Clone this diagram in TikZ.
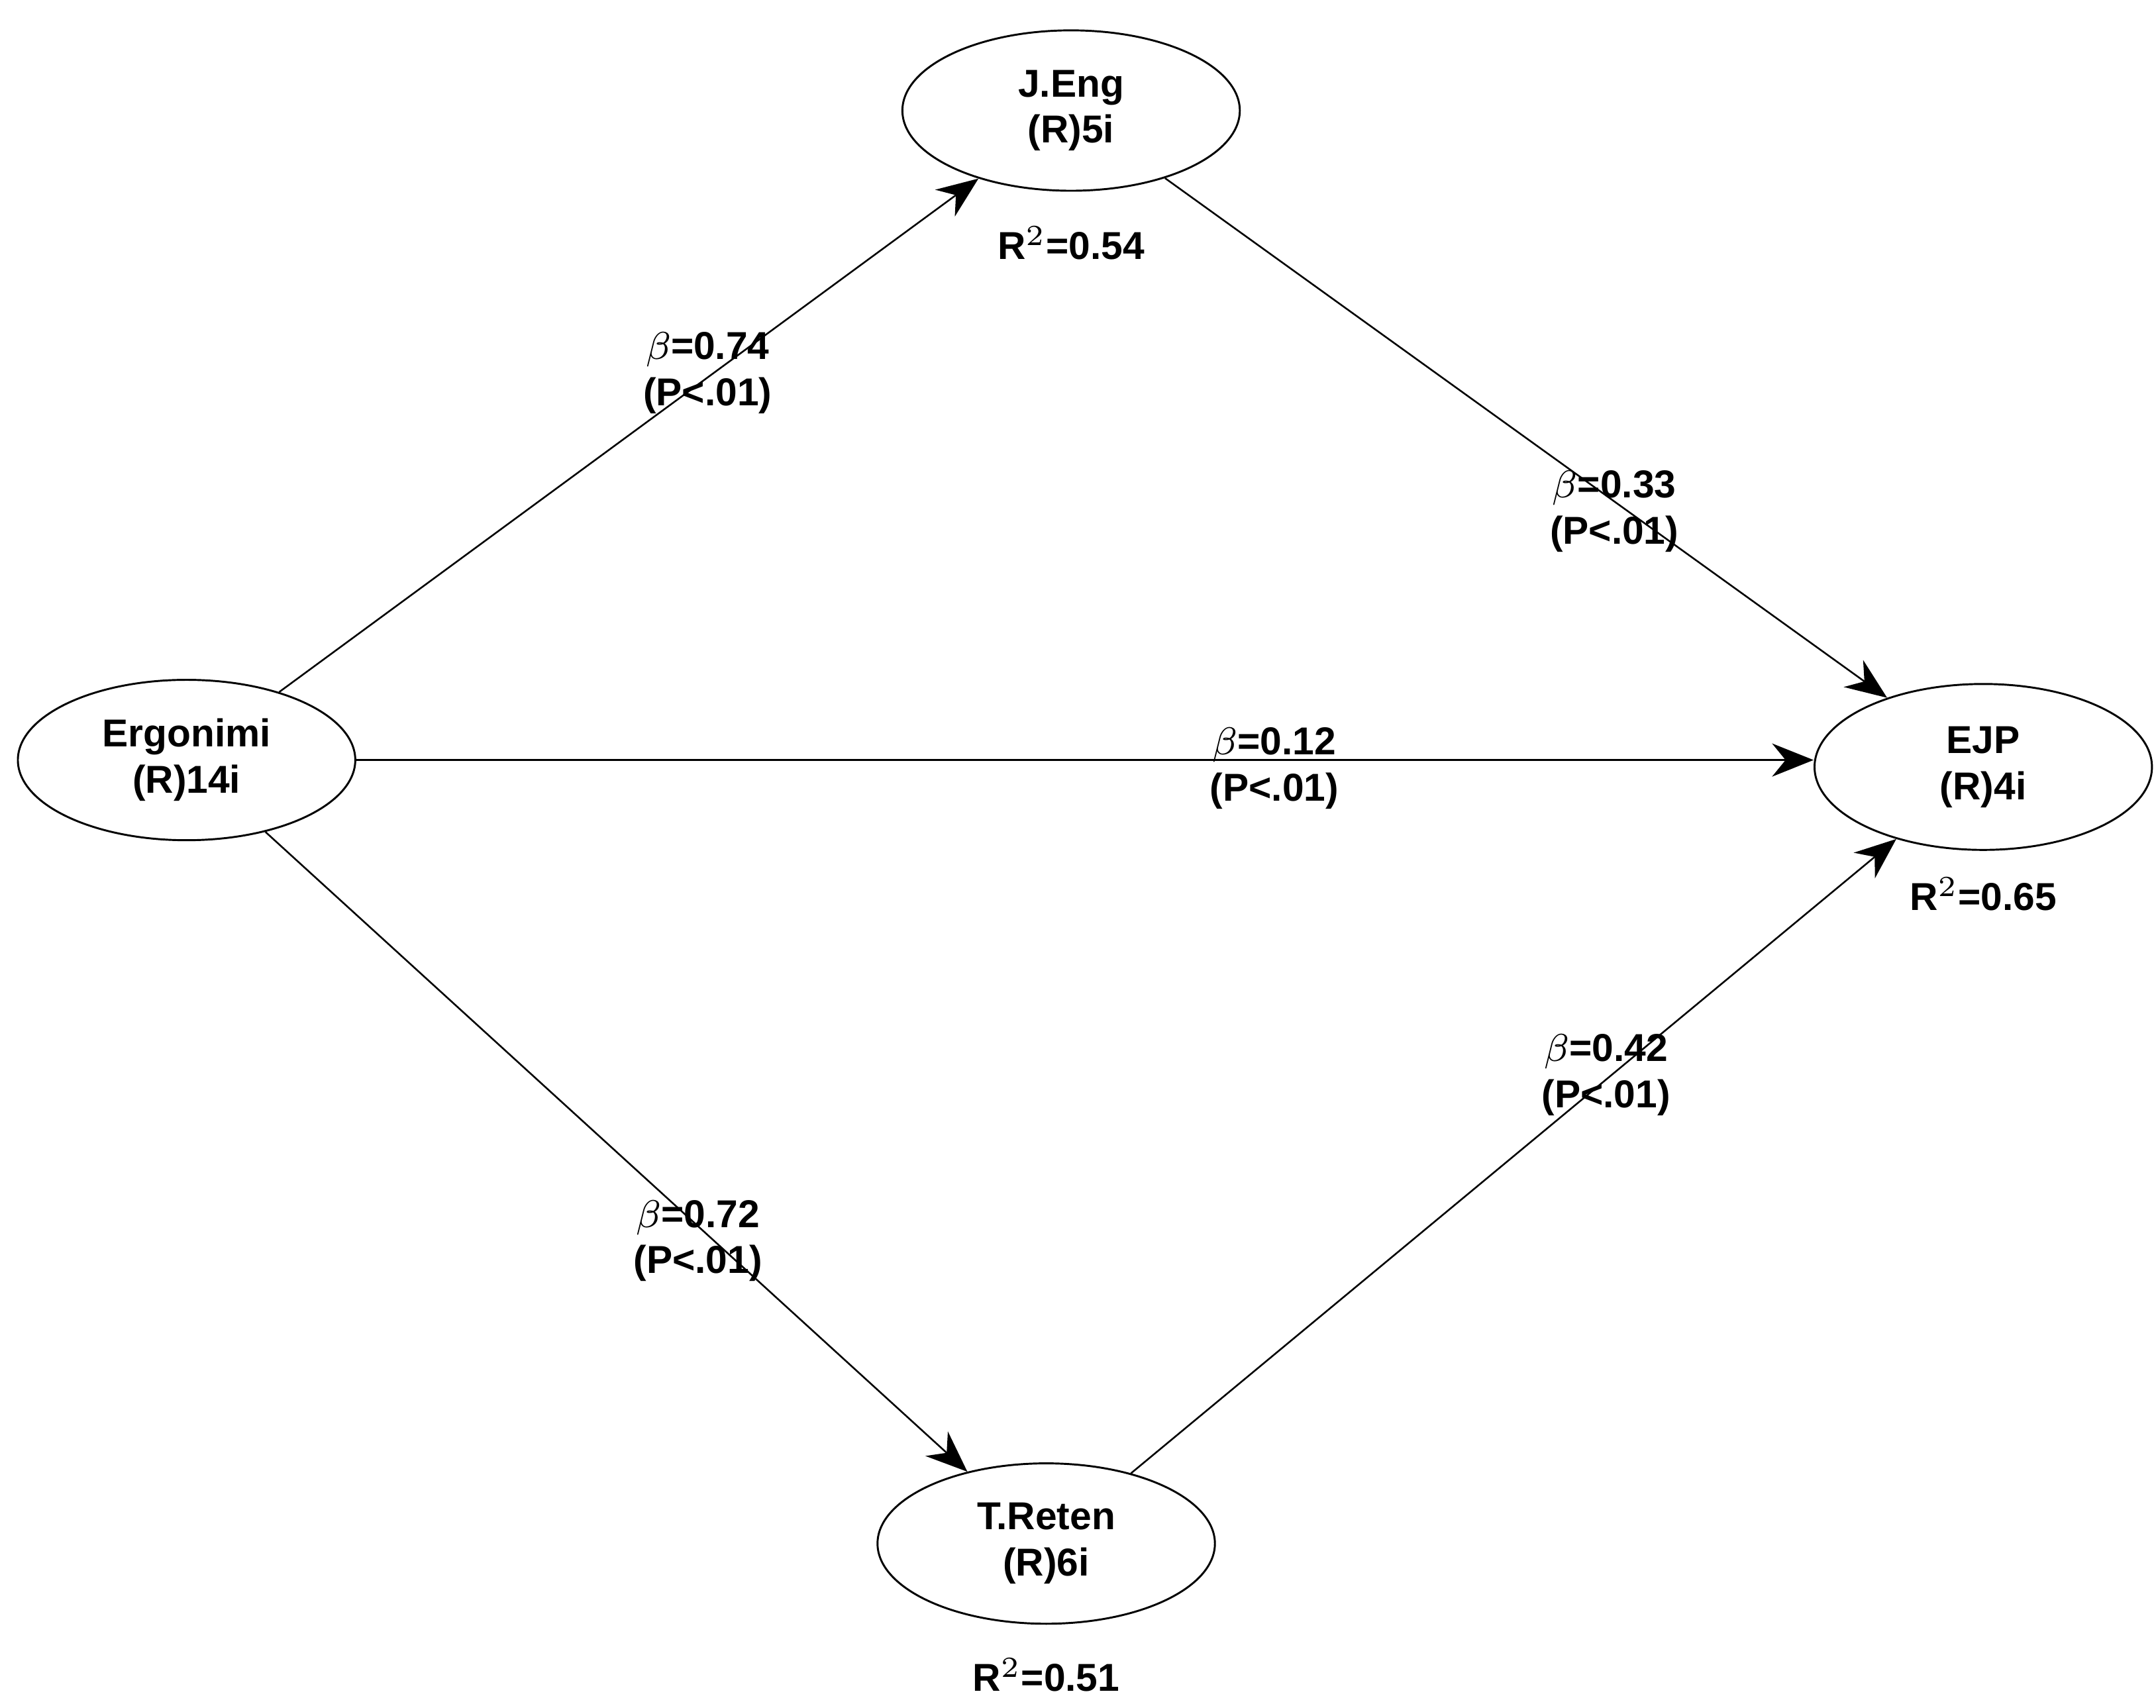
\documentclass[tikz,border=0pt]{standalone}
\usepackage{fontspec}
\setmainfont{Liberation Sans}
\usetikzlibrary{shapes.geometric,arrows.meta}
\begin{document}
\begin{tikzpicture}[x=0.01cm,y=-0.01cm,
  lv/.style={draw,ellipse,minimum width=2.44cm,minimum height=1.16cm,inner sep=0pt,align=center,font=\fontsize{8}{9.5}\selectfont\bfseries},
  lab/.style={align=center,font=\fontsize{8}{9.5}\selectfont\bfseries},
  arr/.style={-{Stealth[length=0.3cm,width=0.24cm]},line width=0.35pt}]
\useasboundingbox (0,0) rectangle (1560,1236);
\fill[white] (0,0) rectangle (1560,1236);
\node[lv] (je) at (775,80) {J.Eng\\(R)5i};
\node[lv] (er) at (135,550) {Ergonimi\\(R)14i};
\node[lv,minimum height=1.2cm] (ejp) at (1435,555) {EJP\\(R)4i};
\node[lv] (tr) at (757,1117) {T.Reten\\(R)6i};
\draw[arr] (er) -- (je);
\draw[arr] (je) -- (ejp);
\draw[arr] (er.east) -- (ejp.west |- er.east);
\draw[arr] (er) -- (tr);
\draw[arr] (tr) -- (ejp);
\node[lab] (l1) at (512,270) {$\beta$=0.74\\(P<.01)};
\node[lab] (l2) at (1168,370) {$\beta$=0.33\\(P<.01)};
\node[lab] (l3) at (922,556) {$\beta$=0.12\\(P<.01)};
\node[lab] (l4) at (505,898) {$\beta$=0.72\\(P<.01)};
\node[lab] (l5) at (1162,778) {$\beta$=0.42\\(P<.01)};
\node[lab] (r1) at (775,176) {R$^2$=0.54};
\node[lab] (r2) at (1435,647) {R$^2$=0.65};
\node[lab] (r3) at (757,1212) {R$^2$=0.51};
\end{tikzpicture}
\end{document}
